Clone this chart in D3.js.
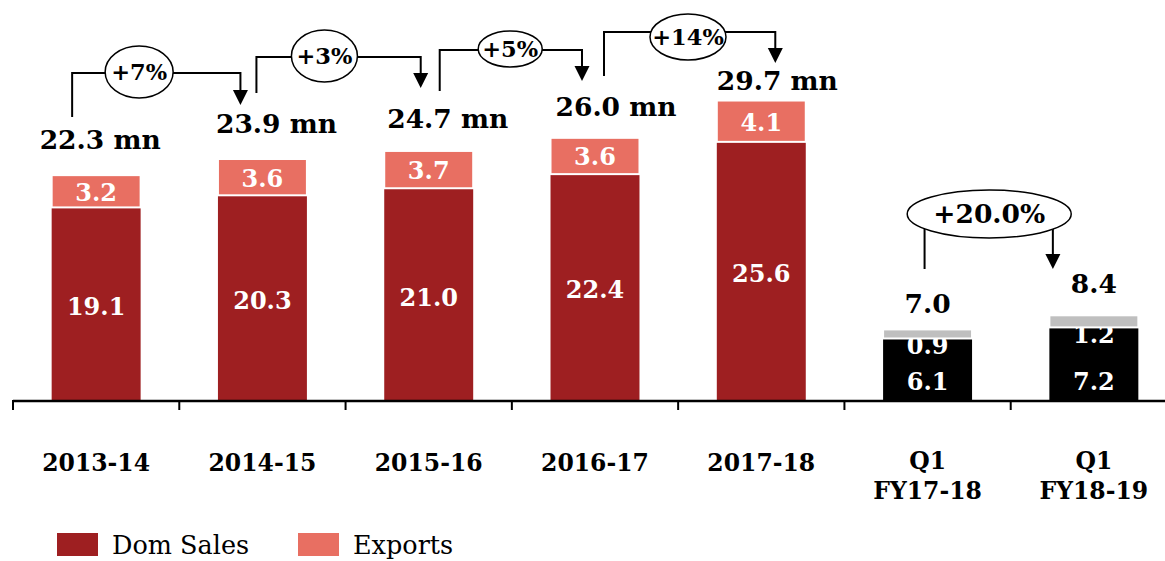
<!DOCTYPE html>
<html>
<head>
<meta charset="utf-8">
<script src="https://cdn.jsdelivr.net/npm/d3@7/dist/d3.min.js"></script>
<style>body { margin: 0; background: #fff; }</style>
</head>
<body>
<svg width="1165" height="561" font-family="DejaVu Serif"></svg>
<script>

// data
var categories = [["2013-14"], ["2014-15"], ["2015-16"], ["2016-17"], ["2017-18"], ["Q1", "FY17-18"], ["Q1", "FY18-19"]];
var domSales = [19.1, 20.3, 21.0, 22.4, 25.6, 6.1, 7.2];
var exportSales = [3.2, 3.6, 3.7, 3.6, 4.1, 0.9, 1.2];
var totalLabels = ["22.3 mn", "23.9 mn", "24.7 mn", "26.0 mn", "29.7 mn", "7.0", "8.4"];
var growthLabels = ["+7%", "+3%", "+5%", "+14%"];
var quarterGrowth = "+20.0%";
var seriesNames = ["Dom Sales", "Exports"];

var svg = d3.select("svg"),
    width = +svg.attr("width");

var x = d3.scaleBand()
    .domain(d3.range(categories.length))
    .range([13, 1177])
    .paddingInner(0.465)
    .paddingOuter(0.2325);

var y = d3.scaleLinear().domain([0, 30]).range([400, 97.5]);

var quarter = function(i) { return i >= 5; };
var domFill = function(i) { return quarter(i) ? "#000" : "#9e1f21"; };
var expFill = function(i) { return quarter(i) ? "#bfbfbf" : "#e86f62"; };

var idx = d3.range(categories.length);

// hand placed callouts (pixel layout, not data)
var totalPos = [[-12, 26], [-2, 26], [3, 23], [5, 22], [0, 11], [0, 16], [0, 22]];
var brackets = [
  {dl: -24, dr: -22, top: 73, leg: 117, tip: 105, ex: 67, ey: 72, rx: 34, ry: 26},
  {dl: -6, dr: -8, top: 57, leg: 93, tip: 88, ex: 68, ey: 56, rx: 33, ry: 26},
  {dl: 11, dr: -13, top: 50, leg: 91, tip: 81, ex: 70.5, ey: 49, rx: 32, ry: 18},
  {dl: 9, dr: 14, top: 32, leg: 76, tip: 63, ex: 84, ey: 37, rx: 38, ry: 23}
];

var cx = function(i) { return x(i) + x.bandwidth() / 2; };

// dom sales
svg.append("g").selectAll("rect")
    .data(idx)
  .enter().append("rect")
    .attr("x", function(i) { return x(i); })
    .attr("y", function(i) { return y(domSales[i]); })
    .attr("width", x.bandwidth())
    .attr("height", function(i) { return y(0) - y(domSales[i]); })
    .attr("fill", domFill);

// quarter labels sit under the grey cap
var qLab = svg.append("g")
    .attr("fill", "#fff").attr("font-weight", "bold").attr("font-size", 24)
    .attr("text-anchor", "middle");
qLab.selectAll(".d").data(idx.filter(quarter)).enter().append("text")
    .attr("x", cx).attr("y", function() { return y(0) - 18; }).attr("dy", "0.35em")
    .text(function(i) { return domSales[i].toFixed(1); });
qLab.selectAll(".e").data(idx.filter(quarter)).enter().append("text")
    .attr("x", cx).attr("y", function(i) { return y(domSales[i]) + 7; }).attr("dy", "0.35em")
    .text(function(i) { return exportSales[i].toFixed(1); });

// exports
svg.append("g").selectAll("rect")
    .data(idx)
  .enter().append("rect")
    .attr("x", function(i) { return x(i); })
    .attr("y", function(i) { return y(domSales[i] + exportSales[i]); })
    .attr("width", x.bandwidth())
    .attr("height", function(i) { return y(domSales[i]) - y(domSales[i] + exportSales[i]); })
    .attr("fill", expFill)
    .attr("stroke", "#fff")
    .attr("stroke-width", 2);

var lab = svg.append("g")
    .attr("fill", "#fff").attr("font-weight", "bold").attr("font-size", 24)
    .attr("text-anchor", "middle");
var annual = idx.filter(function(i) { return !quarter(i); });
lab.selectAll(".d").data(annual).enter().append("text")
    .attr("x", cx).attr("y", function(i) { return (y(0) + y(domSales[i])) / 2 + 3; }).attr("dy", "0.35em")
    .text(function(i) { return domSales[i].toFixed(1); });
lab.selectAll(".e").data(annual).enter().append("text")
    .attr("x", cx).attr("y", function(i) { return (y(domSales[i]) + y(domSales[i] + exportSales[i])) / 2 + 1; }).attr("dy", "0.35em")
    .text(function(i) { return exportSales[i].toFixed(1); });

// totals
svg.append("g").attr("font-weight", "bold").attr("font-size", 26.5)
  .selectAll("text").data(idx).enter().append("text")
    .attr("text-anchor", function(i) { return quarter(i) ? "middle" : "start"; })
    .attr("x", function(i) { return (quarter(i) ? cx(i) : x(i)) + totalPos[i][0]; })
    .attr("y", function(i) { return y(domSales[i] + exportSales[i]) - totalPos[i][1]; })
    .text(function(i) { return totalLabels[i]; });

// axis
var step = x.step(), x0 = x.range()[0];
var axis = svg.append("g").attr("stroke", "#000");
axis.append("line").attr("x1", x0).attr("x2", width).attr("y1", y(0) + 1).attr("y2", y(0) + 1).attr("stroke-width", 2.5);
axis.selectAll(".tick").data(d3.range(categories.length)).enter().append("line")
    .attr("x1", function(i) { return x0 + i * step; })
    .attr("x2", function(i) { return x0 + i * step; })
    .attr("y1", y(0)).attr("y2", y(0) + 10).attr("stroke-width", 2);

svg.append("g").attr("font-weight", "bold").attr("font-size", 23.5).attr("text-anchor", "middle")
  .selectAll("text").data(idx).enter().append("text")
    .attr("x", cx)
    .attr("y", 471)
  .selectAll("tspan").data(function(i) { return categories[i].map(function(t, k) { return [i, t, k]; }); })
  .enter().append("tspan")
    .attr("x", function(d) { return cx(d[0]); })
    .attr("dy", function(d) { return d[2] ? 30 : (categories[d[0]].length > 1 ? -2 : 0); })
    .text(function(d) { return d[1]; });

// growth brackets
var arrow = function(g, xx, tip) {
  g.append("path")
    .attr("d", "M" + (xx - 7.5) + "," + (tip - 15) + "H" + (xx + 7.5) + "L" + xx + "," + tip + "Z")
    .attr("fill", "#000");
};

var br = svg.append("g");
brackets.forEach(function(b, i) {
  var xl = cx(i) + b.dl, xr = cx(i + 1) + b.dr;
  br.append("path")
    .attr("d", "M" + xl + "," + b.leg + "V" + b.top + "H" + xr + "V" + (b.tip - 12))
    .attr("fill", "none").attr("stroke", "#000").attr("stroke-width", 2);
  arrow(br, xr, b.tip);
  br.append("ellipse")
    .attr("cx", xl + b.ex).attr("cy", b.ey).attr("rx", b.rx).attr("ry", b.ry)
    .attr("fill", "#fff").attr("stroke", "#000").attr("stroke-width", 1.5);
  br.append("text")
    .attr("x", xl + b.ex).attr("y", b.ey).attr("dy", "0.35em")
    .attr("text-anchor", "middle").attr("font-weight", "bold").attr("font-size", 22.5)
    .text(growthLabels[i]);
});

// quarter comparison
var ql = cx(5) - 3, qr = cx(6) - 41;
br.append("path").attr("d", "M" + ql + ",228V269M" + qr + ",228V257")
  .attr("fill", "none").attr("stroke", "#000").attr("stroke-width", 2);
arrow(br, qr, 269);
br.append("ellipse")
    .attr("cx", (ql + qr) / 2 + 0.5).attr("cy", 214).attr("rx", 82).attr("ry", 24)
    .attr("fill", "#fff").attr("stroke", "#000").attr("stroke-width", 1.5);
br.append("text")
    .attr("x", (ql + qr) / 2 + 0.5).attr("y", 214).attr("dy", "0.35em")
    .attr("text-anchor", "middle").attr("font-weight", "bold").attr("font-size", 26.5)
    .text(quarterGrowth);

// legend
var leg = svg.append("g").selectAll("g").data(seriesNames).enter().append("g")
    .attr("transform", function(d, i) { return "translate(" + (57 + i * 241) + ",533)"; });
leg.append("rect").attr("width", 41).attr("height", 23)
    .attr("fill", function(d, i) { return i ? "#e86f62" : "#9e1f21"; });
leg.append("text").attr("x", 55).attr("y", 21).attr("font-size", 25.5)
    .text(function(d) { return d; });

</script>
</body>
</html>
